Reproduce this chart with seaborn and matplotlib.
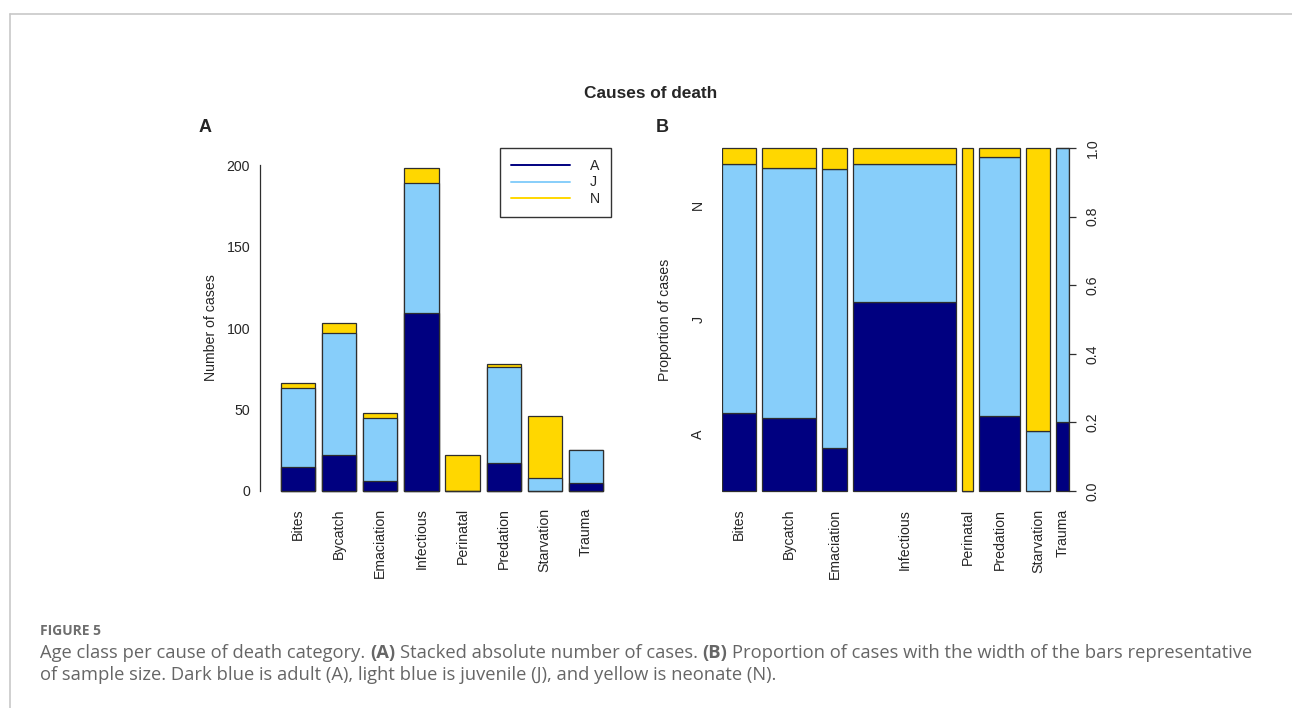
import numpy as np
import pandas as pd
import matplotlib
matplotlib.use("Agg")
import matplotlib.pyplot as plt
from matplotlib.lines import Line2D
import seaborn as sns

# ---- data -------------------------------------------------------------
causes = ["Bites", "Bycatch", "Emaciation", "Infectious", "Perinatal",
          "Predation", "Starvation", "Trauma"]
adult = [15, 22, 6, 109, 0, 17, 0, 5]
juvenile = [48, 75, 39, 80, 0, 59, 8, 20]
neonate = [3, 6, 3, 9, 22, 2, 38, 0]
age_classes = ["A", "J", "N"]
age_colors = ["#000080", "#87CEFA", "#FFD700"]
count_ticks = [0, 50, 100, 150, 200]
prop_ticks = [0.0, 0.2, 0.4, 0.6, 0.8, 1.0]

W, H = 1292, 708
EDGE = "#2e2e2e"
FS = 10.2

sns.set_style("white")
plt.rcParams["font.family"] = ["Liberation Sans", "DejaVu Sans"]

fig = plt.figure(figsize=(W / 100, H / 100), dpi=100)
fig.patch.set_facecolor("white")


def rect(x0, y0, x1, y1):
    return [x0 / W, 1 - y1 / H, (x1 - x0) / W, (y1 - y0) / H]


df = pd.DataFrame({"cause": causes, "A": adult, "J": juvenile, "N": neonate})
df["AJ"] = df["A"] + df["J"]
df["total"] = df["AJ"] + df["N"]

# ---- panel A: stacked counts -----------------------------------------
axA = fig.add_axes(rect(260, 152, 624, 504))
for col, c in [("total", age_colors[2]), ("AJ", age_colors[1]), ("A", age_colors[0])]:
    sns.barplot(data=df, x="cause", y=col, color=c, saturation=1, width=0.833,
                edgecolor=EDGE, linewidth=0.9, errorbar=None, ax=axA)
axA.set_xlim(-0.9276, 7.9276)
axA.set_ylim(-8, 208)
axA.set_yticks(count_ticks)
axA.set_xlabel("")
axA.set_ylabel("Number of cases", fontsize=FS)
axA.yaxis.set_label_coords(-0.115, 0.5)
axA.tick_params(axis="y", length=5, width=0.9, color=EDGE, pad=2.2, labelsize=FS)
axA.tick_params(axis="x", length=0, pad=3, labelsize=FS, labelrotation=90)
for s in ["top", "right", "bottom"]:
    axA.spines[s].set_visible(False)
axA.spines["left"].set_bounds(0, 200)
axA.spines["left"].set_color(EDGE)
axA.spines["left"].set_linewidth(0.9)

handles = [Line2D([], [], color=c, lw=1.4) for c in age_colors]
leg = axA.legend(handles, age_classes, loc="upper left",
                 bbox_to_anchor=(500 / W, 1 - 148 / H), bbox_transform=fig.transFigure,
                 frameon=True, fancybox=False, edgecolor="#333333", framealpha=1,
                 fontsize=FS, handlelength=4.2, handletextpad=1.4, borderpad=0.75,
                 labelspacing=0.2, borderaxespad=0)
leg.get_frame().set_linewidth(1.0)

# ---- panel B: proportions, bar width = sample size -------------------
n = df["total"].to_numpy(dtype=float)
gap = 0.02 * n.sum()
lefts = np.concatenate([[0], np.cumsum(n[:-1] + gap)])
centers = lefts + n / 2
pA = df["A"].to_numpy() / n
pJ = df["J"].to_numpy() / n
pN = df["N"].to_numpy() / n

axB = fig.add_axes(rect(722, 134.3, 1069, 504.7))
bottom = np.zeros_like(n)
for p, c in zip([pA, pJ, pN], age_colors):
    axB.bar(lefts, p, width=n, bottom=bottom, align="edge", color=c,
            edgecolor=EDGE, linewidth=0.9)
    bottom = bottom + p
axB.set_xlim(0, lefts[-1] + n[-1])
axB.set_ylim(-0.04, 1.04)
axB.set_xticks(centers)
axB.set_xticklabels(causes)
axB.tick_params(axis="x", length=0, pad=3, labelsize=FS, labelrotation=90)
axB.set_yticks([1 / 6, 1 / 2, 5 / 6])
axB.set_yticklabels(age_classes)
axB.tick_params(axis="y", length=0, pad=12, labelsize=FS, labelrotation=90)
for lab in axB.get_yticklabels():
    lab.set_va("center")
axB.set_ylabel("Proportion of cases", fontsize=FS)
axB.yaxis.set_label_coords(-0.144, 0.5)
for s in ["top", "right", "bottom", "left"]:
    axB.spines[s].set_visible(False)

axR = axB.twinx()
axR.set_ylim(-0.04, 1.04)
axR.set_yticks(prop_ticks)
axR.set_yticklabels([f"{t:.1f}" for t in prop_ticks])
axR.tick_params(axis="y", length=5, width=0.9, color=EDGE, pad=7, labelsize=FS,
                labelrotation=90)
for lab in axR.get_yticklabels():
    lab.set_va("center")
for s in ["top", "left", "bottom"]:
    axR.spines[s].set_visible(False)
axR.spines["right"].set_bounds(0, 1)
axR.spines["right"].set_color(EDGE)
axR.spines["right"].set_linewidth(0.9)

# ---- titles -----------------------------------------------------------
fig.text(651 / W, 1 - 94 / H, "Causes of death", ha="center", va="center",
         fontsize=12.4, fontweight="bold")
fig.text(205 / W, 1 - 128 / H, "A", ha="center", va="center", fontsize=13, fontweight="bold")
fig.text(662 / W, 1 - 127 / H, "B", ha="center", va="center", fontsize=13, fontweight="bold")

# ---- page frame -------------------------------------------------------
frame_kw = dict(transform=fig.transFigure, color="#c8c8c8", lw=1.2)
fig.add_artist(Line2D([9.5 / W, 9.5 / W], [1 - 13.5 / H, 0], **frame_kw))
fig.add_artist(Line2D([9.5 / W, 1], [1 - 13.5 / H, 1 - 13.5 / H], **frame_kw))

# ---- caption ----------------------------------------------------------
CAP_FONT = ["Open Sans", "DejaVu Sans"]
CAP_COLOR = "#666666"
CAP_FS = 13.2
renderer = fig.canvas.get_renderer()

fig.text(40 / W, 1 - 635 / H, "FIGURE 5", ha="left", va="baseline", fontsize=10.0,
         fontweight="bold", color="#6e6e6e", family=CAP_FONT)


def text_width(s, weight):
    t = fig.text(0, 0, s, fontsize=CAP_FS, fontweight=weight, family=CAP_FONT)
    w = t.get_window_extent(renderer=renderer).width
    t.remove()
    return w


space_w = text_width("x x", "normal") - text_width("xx", "normal")


def draw_runs(x_px, y_px, runs):
    x = x_px
    for s, weight in runs:
        t = fig.text(x / W, 1 - y_px / H, s, ha="left", va="baseline", fontsize=CAP_FS,
                     fontweight=weight, color=CAP_COLOR, family=CAP_FONT)
        x += t.get_window_extent(renderer=renderer).width + space_w


draw_runs(40, 658, [("Age class per cause of death category.", "normal"),
                    ("(A)", "bold"),
                    ("Stacked absolute number of cases.", "normal"),
                    ("(B)", "bold"),
                    ("Proportion of cases with the width of the bars representative", "normal")])
draw_runs(40, 680, [("of sample size. Dark blue is adult (A), light blue is juvenile (J), "
                     "and yellow is neonate (N).", "normal")])

fig.savefig("out.png", dpi=100)
